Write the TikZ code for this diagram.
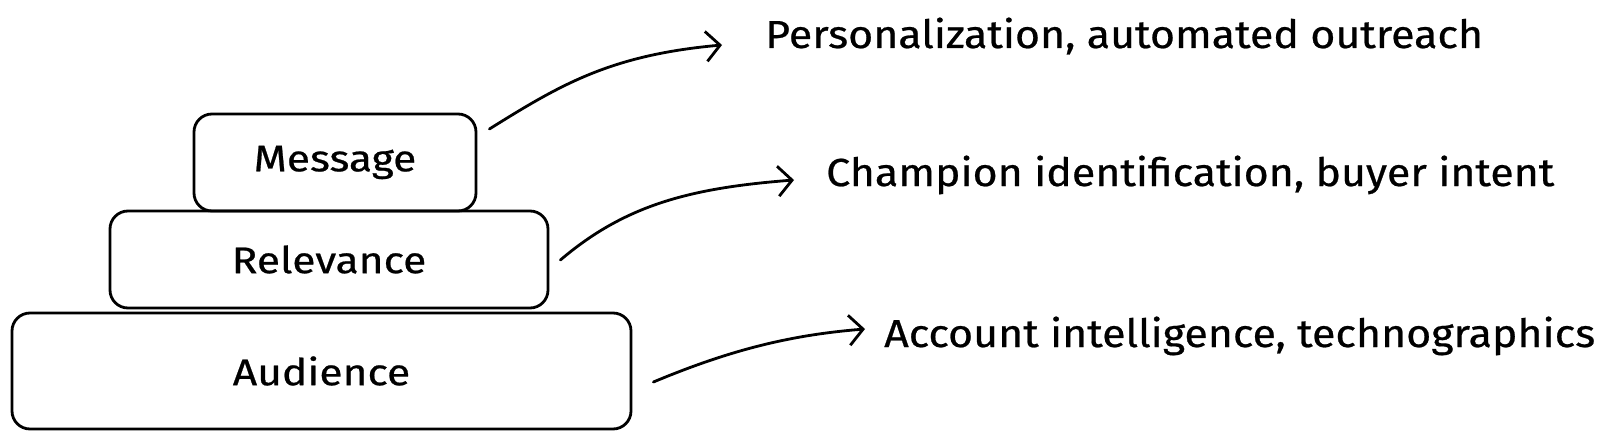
\documentclass[tikz,border=0pt]{standalone}
\usepackage{fontspec}
\setmainfont{Fira Sans}[FakeStretch=1.1,FakeBold=0.6]
\newfontfamily\boxfont{Fira Sans}[FakeStretch=1.15,FakeBold=0.6]
\usetikzlibrary{arrows.meta}
\begin{document}
\begin{tikzpicture}[x=1pt,y=-1pt,
  layer/.style={draw=black, line width=2.8pt, rounded corners=18pt, inner sep=0pt,
    font=\boxfont\fontsize{37}{40}\selectfont, text=black},
  conn/.style={draw=black, line width=2.8pt, line cap=round, -{Straight Barb[length=14pt,width=30pt,line width=2.8pt]}},
  lbl/.style={anchor=base west, inner sep=0pt, font=\fontsize{39}{44}\selectfont, text=black}]
\useasboundingbox (0,0) rectangle (1600,441);
\fill[white] (0,0) rectangle (1600,441);
% boxes
\node[layer, minimum width=282pt, minimum height=97pt] (msg) at (335,162.5) {Message};
\node[layer, minimum width=438pt, minimum height=97pt] (rel) at (329,259.5) {Relevance};
\node[layer, minimum width=619pt, minimum height=116pt] (aud) at (321.5,371) {Audience};
% texts
\node[lbl] (t1) at (765,48) {Personalization, automated outreach};
\node[lbl] (t2) at (826,186) {Champion identification, buyer intent};
\node[lbl] (t3) at (884,347) {Account intelligence, technographics};
% anchors for connector ends
\coordinate (s1) at ([xshift=12pt]msg.east |- 0,129);
\coordinate (s2) at ([xshift=11pt]rel.east |- 0,260);
\coordinate (s3) at ([xshift=21pt]aud.east |- 0,382);
\coordinate (e1) at ([xshift=-43pt]t1.west |- 0,45);
\coordinate (e2) at ([xshift=-32pt]t2.west |- 0,180);
\coordinate (e3) at ([xshift=-19pt]t3.west |- 0,329);
\draw[conn] (s1) .. controls (560,85) and (610,55) .. (e1);
\draw[conn] (s2) .. controls (625,205) and (690,188) .. (e2);
\draw[conn] (s3) .. controls (730,350) and (790,335) .. (e3);
\end{tikzpicture}
\end{document}
